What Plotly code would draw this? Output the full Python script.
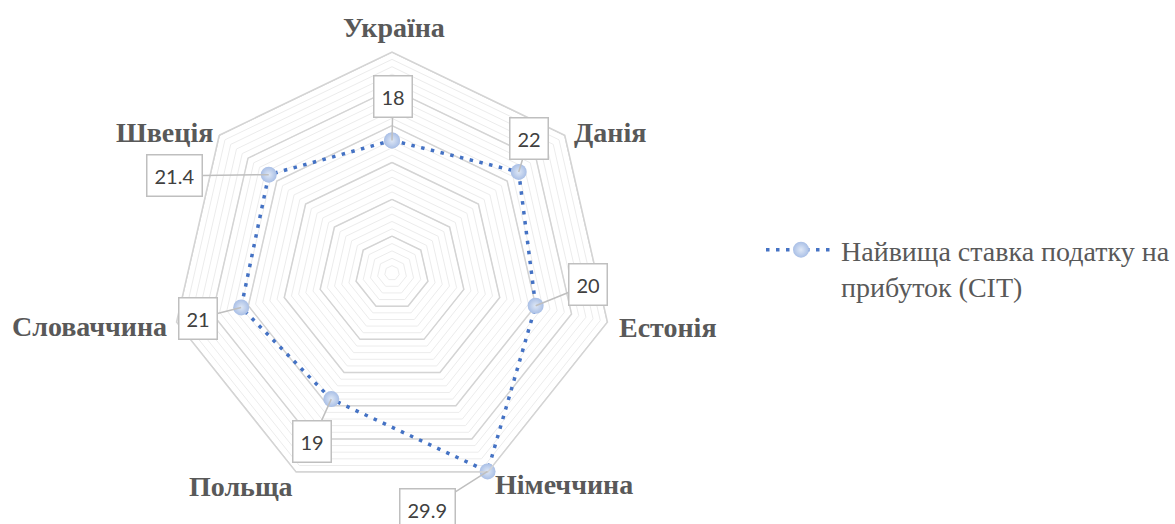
import math
import plotly.graph_objects as go

# --- data -------------------------------------------------------------
countries = ["Україна", "Данія", "Естонія", "Німеччина", "Польща", "Словаччина", "Швеція"]
cit_rates = [18, 22, 20, 29.9, 19, 21, 21.4]
series_name = "Найвища ставка податку на<br>прибуток (CIT)"

r_max = 30
major_levels = [5, 10, 15, 20, 25, 30]

# --- geometry of the polar plot (pixels) ----------------------------------
W, H = 1175, 524
cx, cy, R = 392, 273, 221

# offsets (px) of each value box from its point
label_offsets = [(1, -44), (10, -33), (52, -21), (-60, 38), (-19, 42), (-43, 11), (-94, 1)]
# category label centres (px)
cat_pos = [(394, 27), (610, 133), (668, 327), (564, 484), (241, 486), (89, 326), (164, 132)]

SERIF = "Times New Roman, Liberation Serif, DejaVu Serif, serif"
GRID_MINOR = "#ececec"
GRID_MAJOR = "#d4d4d4"
SERIES = "#4472c4"
TEXT = "#595959"

fig = go.Figure()

closed_theta = countries + [countries[0]]
for lvl in major_levels:
    fig.add_trace(go.Scatterpolar(
        r=[lvl] * len(closed_theta), theta=closed_theta, mode="lines",
        line=dict(color=GRID_MAJOR, width=1.5), hoverinfo="skip", showlegend=False,
    ))

fig.add_trace(go.Scatterpolar(
    r=cit_rates + [cit_rates[0]], theta=closed_theta, mode="lines+markers",
    name=series_name,
    line=dict(color=SERIES, width=3.5, dash="3.5px,6.5px"),
    marker=dict(size=16, color="#a9bfe6", line=dict(width=0),
                gradient=dict(type="radial", color="#dfe8f6")),
))

fig.update_layout(
    width=W, height=H,
    margin=dict(l=0, r=0, t=0, b=0),
    paper_bgcolor="white", plot_bgcolor="white",
    polar=dict(
        domain=dict(x=[(cx - R) / W, (cx + R) / W], y=[1 - (cy + R) / H, 1 - (cy - R) / H]),
        gridshape="linear",
        bgcolor="white",
        radialaxis=dict(range=[0, r_max], dtick=1, showticklabels=False, ticks="",
                        showline=False, gridcolor=GRID_MINOR, gridwidth=1),
        angularaxis=dict(rotation=90, direction="clockwise", showgrid=False,
                         showticklabels=False, ticks="", showline=True,
                         linecolor=GRID_MAJOR, linewidth=1.5),
    ),
    showlegend=True,
    legend=dict(x=761 / W, y=1 - 225 / H, xanchor="left", yanchor="top",
                font=dict(family=SERIF, size=28, color=TEXT),
                itemwidth=70, valign="top", bgcolor="rgba(0,0,0,0)"),
)

n = len(countries)
annotations = []
for i, (name, val) in enumerate(zip(countries, cit_rates)):
    ang = math.radians(90 - i * 360 / n)
    px = cx + val / r_max * R * math.cos(ang)
    py = cy - val / r_max * R * math.sin(ang)
    annotations.append(dict(
        x=px / W, y=1 - py / H, xref="paper", yref="paper",
        text=f"{val:g}", showarrow=True, ax=label_offsets[i][0], ay=label_offsets[i][1],
        axref="pixel", ayref="pixel", arrowhead=0, arrowwidth=1.5, arrowcolor="#bfbfbf",
        standoff=0, font=dict(family="Lato", size=20, color="#404040"), height=26,
        bgcolor="white", bordercolor="#bfbfbf", borderwidth=1.5, borderpad=7,
    ))
    lx, ly = cat_pos[i]
    annotations.append(dict(
        x=lx / W, y=1 - ly / H, xref="paper", yref="paper", showarrow=False,
        text=f"<b>{name}</b>", xanchor="center", yanchor="middle",
        font=dict(family=SERIF, size=28, color=TEXT),
    ))
fig.update_layout(annotations=annotations)

fig.write_html("out.html")
